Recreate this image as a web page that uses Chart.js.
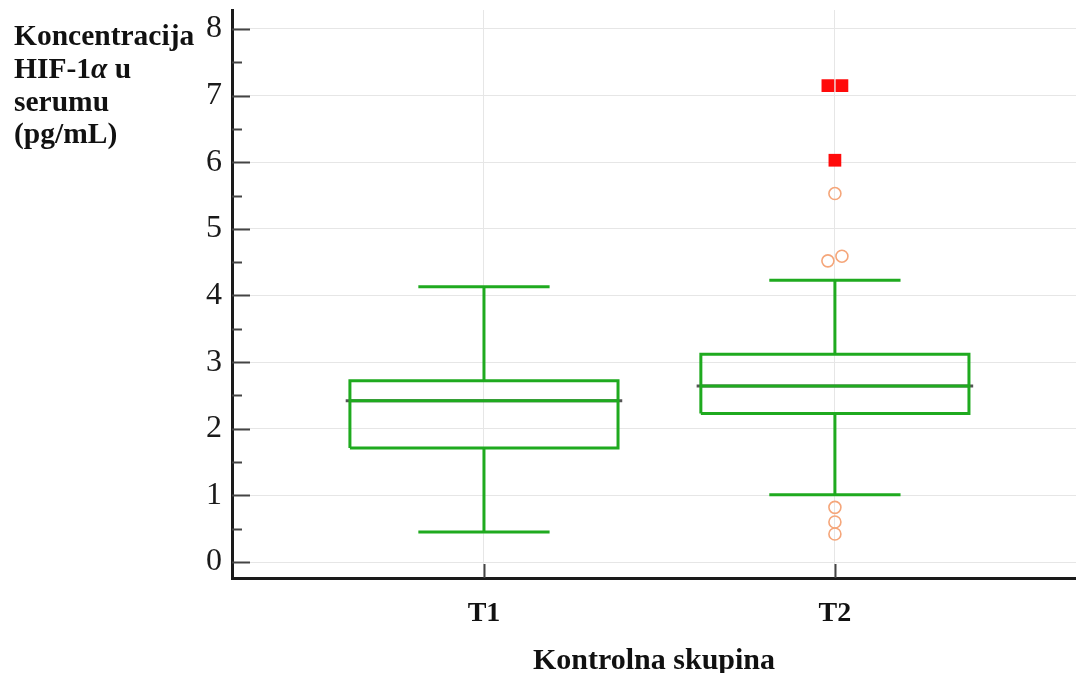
<!DOCTYPE html>
<html>
<head>
<meta charset="utf-8">
<script src="https://cdn.jsdelivr.net/npm/chart.js@4"></script>
<style>
html, body { margin: 0; padding: 0; background: #fff; overflow: hidden; }
#wrap { position: relative; width: 1076px; height: 673px; }
#boxchart { display: block; }
#ylab { position: absolute; left: 14px; top: 19px; font: bold 29.5px 'Liberation Serif', serif; line-height: 32.8px; color: #111; }
</style>
</head>
<body>
<div id="wrap">
  <canvas id="boxchart" width="1076" height="673"></canvas>
  <div id="ylab">Koncentracija<br>HIF-1<i>α</i> u<br>serumu<br>(pg/mL)</div>
</div>
<script>
let groups = ['T1', 'T2'];
let lowWhisker = [0.45, 1.01];
let q1 = [1.71, 2.23];
let median = [2.42, 2.64];
let q3 = [2.72, 3.12];
let highWhisker = [4.13, 4.23];

// T2 outliers (orange circles) and far outliers (red squares)
let t2Outliers = [4.52, 4.59, 5.53, 0.82, 0.60, 0.42];
let t2OutlierSide = [-1, 1, 0, 0, 0, 0];
let t2FarOutliers = [7.15, 7.15, 6.03];
let t2FarSide = [-1, 1, 0];

let yTicks = [0, 1, 2, 3, 4, 5, 6, 7, 8];

const green = '#1faa1f';
const boxHalf = 0.382;
const capHalf = 0.187;
const dodge = 0.02;

function seg(points, color, order) {
  return {
    data: points,
    showLine: true,
    borderColor: color,
    borderWidth: 3,
    pointRadius: 0,
    fill: false,
    order: order
  };
}

function boxDatasets(i) {
  let x = i + 1;
  return [
    seg([{x: x - boxHalf, y: q1[i]}, {x: x + boxHalf, y: q1[i]}, {x: x + boxHalf, y: q3[i]},
         {x: x - boxHalf, y: q3[i]}, {x: x - boxHalf, y: q1[i]}], green, 2),
    seg([{x: x - boxHalf, y: median[i]}, {x: x + boxHalf, y: median[i]}], green, 2),
    seg([{x: x - boxHalf - 0.012, y: median[i]}, {x: x + boxHalf + 0.012, y: median[i]}], '#555', 3),
    seg([{x: x, y: q3[i]}, {x: x, y: highWhisker[i]}], green, 2),
    seg([{x: x - capHalf, y: highWhisker[i]}, {x: x + capHalf, y: highWhisker[i]}], green, 2),
    seg([{x: x, y: q1[i]}, {x: x, y: lowWhisker[i]}], green, 2),
    seg([{x: x - capHalf, y: lowWhisker[i]}, {x: x + capHalf, y: lowWhisker[i]}], green, 2)
  ];
}

let datasets = [];
groups.forEach((g, i) => { datasets = datasets.concat(boxDatasets(i)); });

datasets.push({
  data: t2Outliers.map((v, k) => ({x: 2 + t2OutlierSide[k] * dodge, y: v})),
  pointStyle: 'circle',
  pointRadius: 6,
  pointBorderWidth: 1.6,
  pointBorderColor: '#f5a67a',
  pointBackgroundColor: 'rgba(255,255,255,0)',
  order: 1
});
datasets.push({
  data: t2FarOutliers.map((v, k) => ({x: 2 + t2FarSide[k] * dodge, y: v})),
  pointStyle: 'rect',
  pointRadius: 9,
  pointBorderWidth: 0,
  pointBackgroundColor: '#ff0a0a',
  order: 1
});

const innerTicks = {
  id: 'innerTicks',
  afterDraw(chart) {
    let c = chart.ctx, ys = chart.scales.y, xs = chart.scales.x;
    let left = chart.chartArea.left, bottom = chart.chartArea.bottom;
    c.save();
    c.strokeStyle = '#444';
    c.lineWidth = 2;
    for (let v = 0; v <= 8; v += 0.5) {
      let y = Math.round(ys.getPixelForValue(v)) + 0.5;
      let len = Number.isInteger(v) ? 18 : 10;
      c.beginPath(); c.moveTo(left, y); c.lineTo(left + len, y); c.stroke();
    }
    groups.forEach((g, i) => {
      let x = Math.round(xs.getPixelForValue(i + 1)) + 0.5;
      c.beginPath(); c.moveTo(x, bottom); c.lineTo(x, bottom - 14); c.stroke();
    });
    c.restore();
  }
};

let ctx = document.getElementById('boxchart').getContext('2d');
let boxChart = new Chart(ctx, {
  type: 'scatter',
  data: { datasets: datasets },
  plugins: [innerTicks],
  options: {
    responsive: false,
    animation: false,
    layout: { autoPadding: false, padding: { top: 10, left: 0, right: 0, bottom: 0 } },
    plugins: { legend: { display: false }, tooltip: { enabled: false } },
    scales: {
      x: {
        type: 'linear',
        min: 0.282,
        max: 2.687,
        afterFit(scale) { scale.height = 95; scale.paddingLeft = 0; scale.paddingRight = 0; },
        afterBuildTicks(scale) { scale.ticks = groups.map((g, i) => ({value: i + 1})); },
        ticks: {
          callback: (v) => groups[v - 1],
          font: { family: 'Liberation Serif', size: 28, weight: 'bold' },
          color: '#111',
          padding: 19
        },
        grid: { color: '#e6e6e6', lineWidth: 1, drawTicks: false },
        border: { display: true, color: '#1a1a1a', width: 3 },
        title: {
          display: true,
          text: 'Kontrolna skupina',
          font: { family: 'Liberation Serif', size: 30, weight: 'bold' },
          color: '#111',
          padding: { top: 0, bottom: -6 }
        }
      },
      y: {
        min: -0.24,
        max: 8.285,
        afterFit(scale) { scale.width = 232; scale.paddingTop = 0; scale.paddingBottom = 0; },
        afterBuildTicks(scale) { scale.ticks = yTicks.map(v => ({value: v})); },
        ticks: {
          font: { family: 'Liberation Serif', size: 32 },
          color: '#1a1a1a',
          padding: 10
        },
        grid: { color: '#e6e6e6', lineWidth: 1, drawTicks: false },
        border: { display: true, color: '#1a1a1a', width: 3 }
      }
    }
  }
});
</script>
</body>
</html>
